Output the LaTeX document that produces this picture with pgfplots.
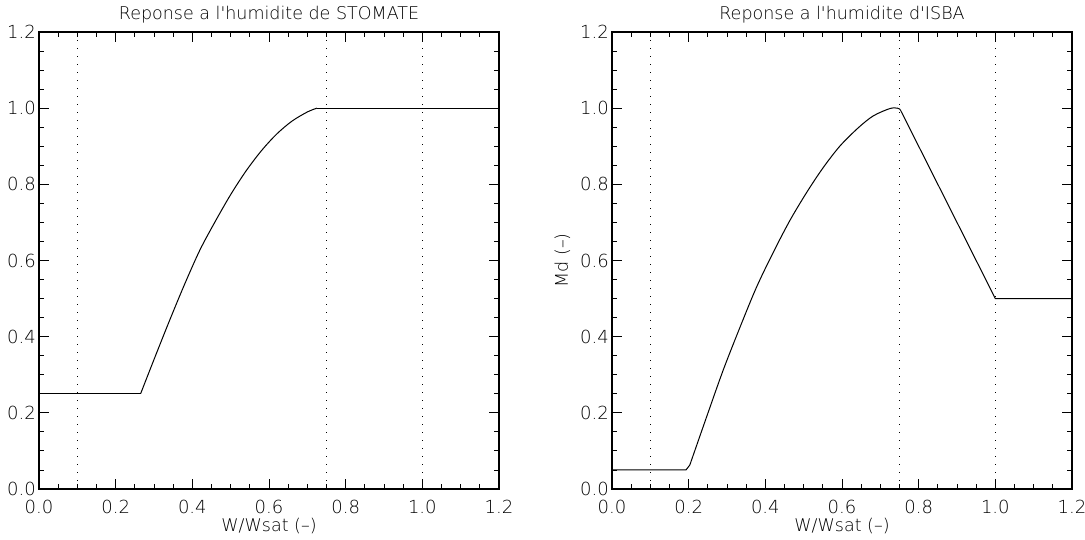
\documentclass[border=0pt]{standalone}
\usepackage{fontspec}
\setmainfont{DejaVu Sans ExtraLight}[Ligatures=TeXOff]
\usepackage{pgfplots}
\pgfplotsset{compat=1.18}
\pgfplotsset{
  idl/.style={
    scale only axis, width=460bp, height=457bp,
    xmin=0, xmax=1.2, ymin=0, ymax=1.2,
    xtick={0,0.2,0.4,0.6,0.8,1.0,1.2},
    ytick={0,0.2,0.4,0.6,0.8,1.0,1.2},
    xticklabels={0.0,0.2,0.4,0.6,0.8,1.0,1.2},
    yticklabels={0.0,0.2,0.4,0.6,0.8,1.0,1.2},
    minor x tick num=3, minor y tick num=3,
    tick align=inside,
    major tick length=10bp, minor tick length=5bp,
    xticklabel pos=lower, yticklabel pos=left,
    xtick pos=both, ytick pos=both,
    axis line style={line width=1.1bp},
    every tick/.style={black, line width=0.9bp},
    tick label style={font=\fontsize{18bp}{20bp}\selectfont},
    every x tick label/.append style={anchor=north, inner sep=0pt, yshift=-11bp},
    every y tick label/.append style={anchor=east, inner sep=0pt, xshift=-3bp},
    title style={at={(axis description cs:0.5,1)}, anchor=base, yshift=7bp, inner sep=0pt, font=\fontsize{17.5bp}{20bp}\selectfont},
    xlabel style={at={(axis description cs:0.5,-0.092)}, anchor=base, inner sep=0pt, font=\fontsize{17.5bp}{20bp}\selectfont},
    ylabel style={at={(axis description cs:-0.0957,0.5)}, anchor=base, inner sep=0pt, font=\fontsize{17.5bp}{20bp}\selectfont},
    xlabel={W/Wsat (–)},
    dotv/.style={black, line width=1.4bp, dash pattern=on 1.4bp off 6.6bp},
    curve/.style={black, line width=1bp},
  }
}
\begin{document}
\begin{tikzpicture}
\useasboundingbox (0bp,0bp) rectangle (1085bp,540bp);
\clip (0bp,0bp) rectangle (1085bp,540bp);
\begin{axis}[idl, at={(39bp,51bp)}, anchor=south west,
  title={Reponse a l'humidite de STOMATE}]
  \addplot[dotv] coordinates {(0.1,0) (0.1,1.2)};
  \addplot[dotv] coordinates {(0.75,0) (0.75,1.2)};
  \addplot[dotv] coordinates {(1.0,0) (1.0,1.2)};
  \addplot[curve] coordinates {(0,0.25) (0.265,0.25)};
  \addplot[curve, smooth, tension=0.5] coordinates {
    (0.265,0.25) (0.30,0.340) (0.34,0.441) (0.38,0.538)
    (0.42,0.628) (0.46,0.703) (0.50,0.773) (0.54,0.835) (0.58,0.888)
    (0.62,0.932) (0.66,0.966) (0.70,0.990) (0.725,1.0)};
  \addplot[curve] coordinates {(0.725,1.0) (1.2,1.0)};
\end{axis}
\begin{axis}[idl, at={(612bp,51bp)}, anchor=south west,
  title={Reponse a l'humidite d'ISBA}, ylabel={Md (–)}]
  \addplot[dotv] coordinates {(0.1,0) (0.1,1.2)};
  \addplot[dotv] coordinates {(0.75,0) (0.75,1.2)};
  \addplot[dotv] coordinates {(1.0,0) (1.0,1.2)};
  \addplot[curve] coordinates {(0,0.05) (0.193,0.05) (0.203,0.063)};
  \addplot[curve, smooth, tension=0.5] coordinates {
    (0.203,0.063) (0.247,0.190) (0.290,0.312)
    (0.334,0.425) (0.377,0.530) (0.421,0.622) (0.464,0.705) (0.508,0.779)
    (0.551,0.844) (0.595,0.901) (0.643,0.949) (0.682,0.980) (0.725,0.999)
    (0.745,1.0) (0.752,0.996)};
  \addplot[curve] coordinates {(0.752,0.996) (1.0,0.5) (1.2,0.5)};
\end{axis}
\end{tikzpicture}
\end{document}
